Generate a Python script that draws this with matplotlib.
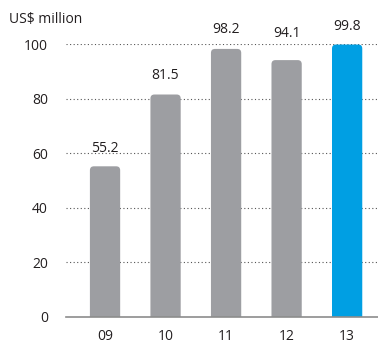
import matplotlib
matplotlib.use("Agg")
import matplotlib.pyplot as plt
from matplotlib.patches import FancyBboxPatch

plt.rcParams['font.family'] = ['Open Sans', 'DejaVu Sans']

years = ["09", "10", "11", "12", "13"]
values = [55.2, 81.5, 98.2, 94.1, 99.8]
label_offsets = [18, 19, 19, 27, 18]   # px above each bar top
y_ticks = [0, 20, 40, 60, 80, 100]

GREY = "#9d9ea2"
BLUE = "#009fe3"
TEXT = "#231f20"
FS = 10

fig = plt.figure(figsize=(3.78, 3.44), dpi=100)
ax = fig.add_axes([66 / 378, 27 / 344, 1 - 66 / 378, (317 - 44) / 344])

xs = list(range(len(years)))
width = 0.5
ax.set_xlim(-0.645, 4.51)
ax.set_ylim(0, 100)

# rounded top corners: the box runs below zero and the axes clip the bottom
px_x = 378 * (1 - 66 / 378) / (4.51 + 0.645)
px_y = (317 - 44) / 100
r = 4 / px_x
for i, (x, v) in enumerate(zip(xs, values)):
    color = BLUE if i == len(values) - 1 else GREY
    patch = FancyBboxPatch((x - width / 2, -10), width, v + 10,
                           boxstyle=f"round,pad=0,rounding_size={r}",
                           mutation_aspect=px_x / px_y,
                           fc=color, ec="none", zorder=3)
    ax.add_patch(patch)
    ax.annotate(f"{v:.1f}", xy=(x, v), xytext=(0, label_offsets[i] * 0.72),
                textcoords="offset points", ha="center", va="center",
                fontsize=FS, color=TEXT, zorder=4)

for t in y_ticks[1:]:
    ax.axhline(t, color="#555555", lw=0.8, ls=(0, (1, 2.2)), zorder=1)

for s in ["top", "right", "left"]:
    ax.spines[s].set_visible(False)
ax.spines["bottom"].set_color("#8c8c8c")
ax.spines["bottom"].set_linewidth(1.2)
ax.spines["bottom"].set_zorder(5)

ax.set_xticks(xs)
ax.set_xticklabels(years)
ax.set_yticks(y_ticks)
ax.tick_params(axis="both", length=0, labelsize=FS, colors=TEXT)
ax.tick_params(axis="y", pad=13)
ax.tick_params(axis="x", pad=9)

fig.text(9 / 378, 1 - 20 / 344, "US$ million", fontsize=FS,
         color=TEXT, ha="left", va="center")

fig.savefig("out.png", dpi=100)
